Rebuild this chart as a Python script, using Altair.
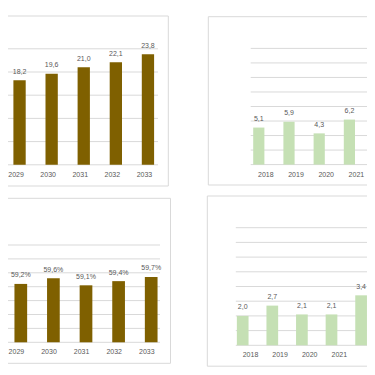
import altair as alt
import pandas as pd

# ---- data ----
tl_years = ["2029", "2030", "2031", "2032", "2033"]
tl_values = [18.2, 19.6, 21.0, 22.1, 23.8]
tl_grid = [0, 5, 10, 15, 20, 25]

tr_years = ["2018", "2019", "2020", "2021"]
tr_values = [5.1, 5.9, 4.3, 6.2]
tr_grid = [0, 2, 4, 6, 8, 10, 12, 14, 16]

bl_years = ["2029", "2030", "2031", "2032", "2033"]
bl_values = [59.2, 59.6, 59.1, 59.4, 59.7]
bl_grid = [55, 56, 57, 58, 59, 60, 61, 62]

br_years = ["2018", "2019", "2020", "2021", "2022"]
br_values = [2.0, 2.7, 2.1, 2.1, 3.4]
br_grid = [0, 1, 2, 3, 4, 5, 6, 7, 8]

DARK = "#7F6000"
GREEN = "#C5E0B4"
TEXT = "#595959"
GRID = "#D9D9D9"
FONT = "Liberation Sans"
W = H = 359


def fmt(v, pct=False):
    s = f"{v:.1f}".replace(".", ",")
    return s + "%" if pct else s


def panel(years, values, grid, pct, color, ydomain, xrange, yrange,
          bar_w, bar_off, grid_x, label_y, label_years, label_dx, frame):
    df = pd.DataFrame({"year": years, "value": values,
                       "label": [fmt(v, pct) for v in values]})
    xs = alt.Scale(domain=years, range=xrange, paddingInner=0, paddingOuter=0)
    ys = alt.Scale(domain=ydomain, range=yrange, nice=False, zero=False)
    x = alt.X("year:O", scale=xs, axis=None)
    y = alt.Y("value:Q", scale=ys, axis=None)

    gridlines = alt.Chart(pd.DataFrame({"value": grid})).mark_rule(
        color=GRID, strokeWidth=1).encode(
        y=y, x=alt.value(grid_x[0]), x2=alt.value(grid_x[1]))
    bars = alt.Chart(df).mark_bar(width=bar_w, xOffset=bar_off, color=color).encode(
        x=x, y=y, y2=alt.datum(ydomain[0]))
    text = alt.Chart(df).mark_text(xOffset=bar_off, dy=-8.5, baseline="middle",
                                   fontSize=7, font=FONT, color=TEXT).encode(
        x=x, y=y, text="label:N")
    years_lbl = alt.Chart(pd.DataFrame({"year": label_years})).mark_text(
        baseline="middle", fontSize=7, font=FONT, color=TEXT, xOffset=label_dx).encode(
        x=x, y=alt.value(label_y), text="year:N")
    rules = []
    for f in frame:
        rules.append(alt.Chart(alt.Data(values=[{}])).mark_rule(
            color=GRID, strokeWidth=1).encode(**{k: alt.value(v) for k, v in f.items()}))
    return alt.layer(gridlines, bars, text, years_lbl, *rules)


# coordinates below are in svg pixels (page minus the 8px margin)
tl = panel(tl_years, tl_values, tl_grid, False, DARK, [0, 25],
           [-12.5, 148], [156.8, 40.8], 12.3, 8, (0, 150), 167, tl_years, 4.5,
           [dict(x=0, x2=160.3, y=8), dict(x=160.3, y=8, y2=178),
            dict(x=0, x2=160.3, y=178)])

tr = panel(tr_years, tr_values, tr_grid, False, GREEN, [0, 16],
           [242.7, 363.5], [156.6, 40.4], 11.2, -7, (242.7, W), 167.2, tr_years, 0,
           [dict(x=200.3, x2=W, y=8.7), dict(x=200.3, y=8.7, y2=177),
            dict(x=200.3, x2=W, y=177)])

bl = panel(bl_years, bl_values, bl_grid, True, DARK, [55, 62],
           [-11.9, 151.1], [334.3, 237], 12.7, 8.4, (0, 152), 344.3, bl_years, 4,
           [dict(x=0, x2=162.5, y=190.3), dict(x=162.5, y=190.3, y2=355.3),
            dict(x=0, x2=162.5, y=355.3)])

br = panel(br_years, br_values, br_grid, False, GREEN, [0, 8],
           [227.7, 375.7], [337.3, 219.7], 11.7, -7.8, (227.8, W), 346.5, br_years[:4], 0,
           [dict(x=199.3, x2=W, y=188), dict(x=199.3, y=188, y2=358.2),
            dict(x=199.3, x2=W, y=358.2)])

chart = alt.layer(tl, tr, bl, br).resolve_scale(
    x="independent", y="independent"
).properties(
    width=W, height=H,
    padding=0,
    autosize=alt.AutoSizeParams(type="none"),
    background="white",
).configure_view(stroke=None)

chart.save("out.html", embed_options={"renderer": "svg", "actions": False})
